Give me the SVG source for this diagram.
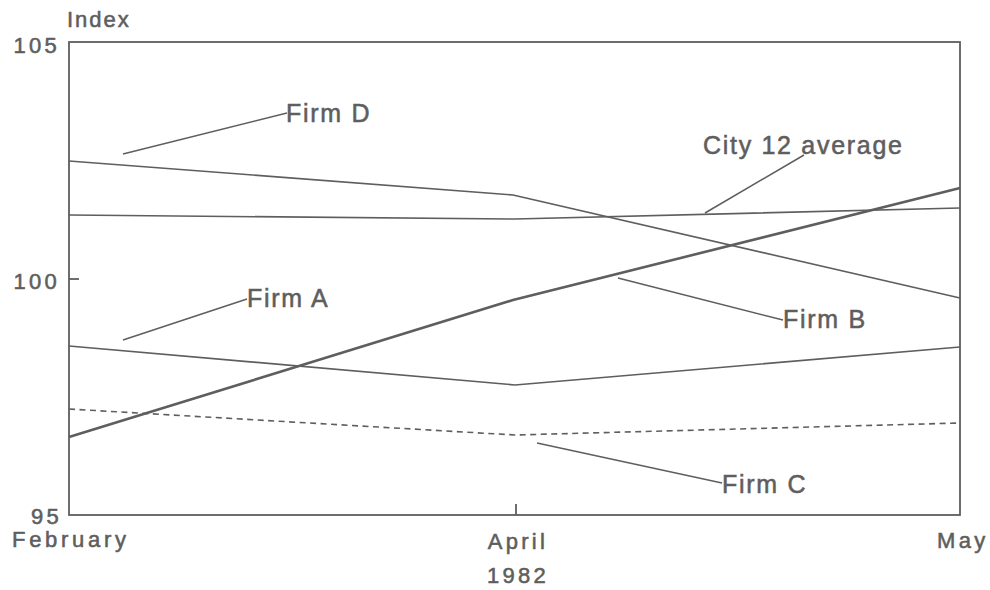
<svg xmlns="http://www.w3.org/2000/svg" width="990" height="590" viewBox="0 0 990 590">
<style>
text{font-family:"Liberation Sans",Arial,sans-serif;font-size:22px;fill:#5e5e5e;stroke:#5e5e5e;stroke-width:0.55;letter-spacing:3.3px}
.lb{font-size:25px;letter-spacing:1.7px}
.ax{fill:none;stroke:#5e5e5e;stroke-width:1.8}
.ln{fill:none;stroke:#5e5e5e;stroke-width:1.6;stroke-linejoin:round}
.thick{stroke-width:2.6}
.dash{stroke-dasharray:6 4.5}
.ld{fill:none;stroke:#5e5e5e;stroke-width:1.5}
.r{text-anchor:end}
.m{text-anchor:middle}
</style>
<rect width="990" height="590" fill="#ffffff"/>
<g id="axes">
<rect class="ax" x="69" y="42" width="891" height="473"/>
<line class="ax" x1="69" y1="279" x2="79" y2="279"/>
<line class="ax" x1="516" y1="504" x2="516" y2="515"/>
<text x="67" y="27" style="letter-spacing:2px">Index</text>
<text class="r" x="60" y="53">105</text>
<text class="r" x="60" y="289">100</text>
<text class="r" x="62" y="524">95</text>
<text x="12" y="547" style="letter-spacing:3.7px">February</text>
<text class="m" x="518" y="549">April</text>
<text class="m" x="518" y="583">1982</text>
<text x="937" y="548">May</text>
</g>
<g id="series">
<polyline id="firm-d" class="ln" points="69,161 513,195 960,298"/>
<polyline id="city-avg" class="ln" points="69,215 515,219 960,208"/>
<polyline id="firm-b" class="ln thick" points="69,437 513,300 960,188"/>
<polyline id="firm-a" class="ln" points="69,346 515,385 960,347"/>
<polyline id="firm-c" class="ln dash" points="69,409 515,435 960,423"/>
</g>
<g id="connectors">
<line class="ld" x1="123" y1="154" x2="287" y2="113"/>
<line class="ld" x1="705" y1="213" x2="804" y2="155"/>
<line class="ld" x1="123" y1="340" x2="247" y2="299"/>
<line class="ld" x1="618" y1="278" x2="783" y2="320"/>
<line class="ld" x1="537" y1="443" x2="722" y2="483"/>
</g>
<g id="label-firm-d"><text class="lb" x="286" y="122">Firm D</text></g>
<g id="label-city-avg"><text class="lb" x="703" y="154">City 12 average</text></g>
<g id="label-firm-a"><text class="lb" x="247" y="307">Firm A</text></g>
<g id="label-firm-b"><text class="lb" x="783" y="328">Firm B</text></g>
<g id="label-firm-c"><text class="lb" x="722" y="493">Firm C</text></g>
</svg>
